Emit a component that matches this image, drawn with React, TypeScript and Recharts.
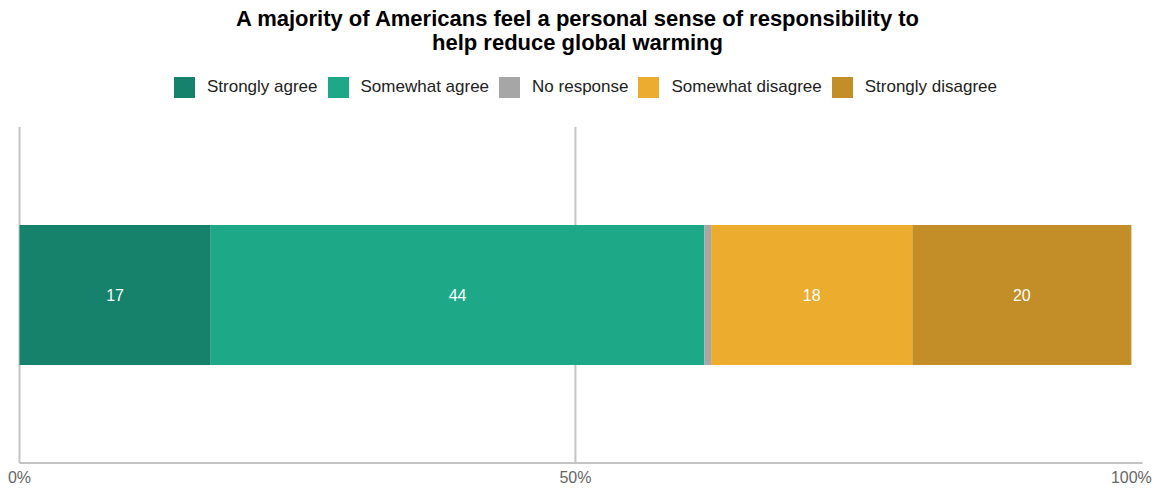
import React from 'react';
import { BarChart, Bar, XAxis, YAxis, CartesianGrid, LabelList } from 'recharts';

const categories = ['Americans'];
const seriesKeys = ['stronglyAgree', 'somewhatAgree', 'noResponse', 'somewhatDisagree', 'stronglyDisagree'];
const seriesNames = ['Strongly agree', 'Somewhat agree', 'No response', 'Somewhat disagree', 'Strongly disagree'];
const seriesColors = ['#17826B', '#1DA888', '#A6A6A6', '#ECAC2E', '#C38E27'];
const stronglyAgree = [17.2];
const somewhatAgree = [44.4];
const noResponse = [0.6];
const somewhatDisagree = [18.1];
const stronglyDisagree = [19.7];
const xTicks = [0, 50, 100];
const xTickLabels = ['0%', '50%', '100%'];
const gridValues = [0, 50];

const seriesValues = [stronglyAgree, somewhatAgree, noResponse, somewhatDisagree, stronglyDisagree];
const data = categories.map((c, i) => {
  const row: Record<string, any> = { name: c };
  seriesKeys.forEach((k, j) => { row[k] = seriesValues[j][i]; });
  return row;
});

const FONT = '"Liberation Sans", Arial, Helvetica, sans-serif';
const DOMAIN: [number, number] = [0, 101];

export default function App() {
  return (
    <div style={{ position: 'absolute', left: 0, top: 0, width: 1155, height: 488, background: '#fff' }}>
      <div style={{ position: 'absolute', left: 0, top: 7, width: 1155, textAlign: 'center', fontFamily: FONT, fontWeight: 'bold', fontSize: 22, lineHeight: '24px', color: '#000' }}>
        A majority of Americans feel a personal sense of responsibility to<br />help reduce global warming
      </div>
      <div style={{ position: 'absolute', left: 8, top: 76, width: 1155, height: 22, display: 'flex', justifyContent: 'center', alignItems: 'center', fontFamily: FONT, fontSize: 17, color: '#222' }}>
        {seriesNames.map((n, i) => (
          <div key={n} style={{ display: 'flex', alignItems: 'center', marginRight: i < seriesNames.length - 1 ? 10 : 0 }}>
            <span style={{ display: 'inline-block', width: 21, height: 21, background: seriesColors[i], marginRight: 12 }} />
            <span>{n}</span>
          </div>
        ))}
      </div>
      <BarChart width={1155} height={488} data={data} layout="vertical" margin={{ top: 127, right: 12.5, bottom: 0, left: 19.5 }} barSize={140}>
        <CartesianGrid horizontal={false} vertical={true} stroke="#c4c4c4" strokeWidth={2}
          verticalCoordinatesGenerator={({ offset }: any) => gridValues.map(v => offset.left + (v - DOMAIN[0]) / (DOMAIN[1] - DOMAIN[0]) * offset.width)} />
        <XAxis type="number" domain={DOMAIN} ticks={xTicks} tickFormatter={(v: number) => xTickLabels[xTicks.indexOf(v)]} axisLine={{ stroke: '#c4c4c4', strokeWidth: 2 }} tickLine={false} tickSize={0} tickMargin={9} height={25} tick={{ fill: '#666', fontSize: 16, fontFamily: FONT }} interval={0} />
        <YAxis type="category" dataKey="name" hide />
        {seriesKeys.map((k, i) => (
          <Bar key={k} dataKey={k} name={seriesNames[i]} stackId="a" fill={seriesColors[i]} isAnimationActive={false}>
            {k !== 'noResponse' && (
              <LabelList dataKey={k} position="center" formatter={(v: any) => Math.round(Number(v))} style={{ fill: '#fff', fontSize: 16, fontFamily: FONT }} />
            )}
          </Bar>
        ))}
      </BarChart>
    </div>
  );
}
